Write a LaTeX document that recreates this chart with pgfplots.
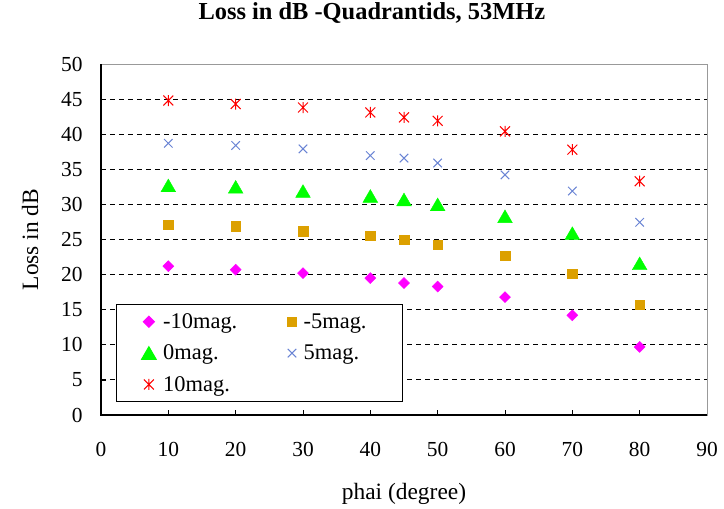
\documentclass[border=0pt]{standalone}
\usepackage{fontspec}
\setmainfont{Liberation Serif}
\usepackage{pgfplots}
\pgfplotsset{compat=1.18}
\definecolor{cmag}{RGB}{255,0,255}
\definecolor{cora}{RGB}{220,160,0}
\definecolor{cgre}{RGB}{0,255,0}
\definecolor{cblu}{RGB}{106,132,212}
\definecolor{cred}{RGB}{255,0,0}
\pgfdeclareplotmark{xstar}{%
  \pgfpathmoveto{\pgfqpoint{-0.9\pgfplotmarksize}{-0.9\pgfplotmarksize}}%
  \pgfpathlineto{\pgfqpoint{0.9\pgfplotmarksize}{0.9\pgfplotmarksize}}%
  \pgfpathmoveto{\pgfqpoint{-0.9\pgfplotmarksize}{0.9\pgfplotmarksize}}%
  \pgfpathlineto{\pgfqpoint{0.9\pgfplotmarksize}{-0.9\pgfplotmarksize}}%
  \pgfpathmoveto{\pgfqpoint{0pt}{-\pgfplotmarksize}}%
  \pgfpathlineto{\pgfqpoint{0pt}{\pgfplotmarksize}}%
  \pgfusepathqstroke}
\begin{document}
\begin{tikzpicture}
\useasboundingbox (-101bp,-94bp) rectangle (623bp,415bp);
\begin{axis}[
  at={(0,0)}, anchor=south west,
  scale only axis, width=606bp, height=351bp,
  xmin=0, xmax=90, ymin=0, ymax=50,
  xtick={0,10,...,90}, ytick={0,5,...,50},
  xtick pos=bottom, ytick pos=left,
  tick align=inside, major tick length=5bp,
  tick style={black, line width=0.8bp},
  axis line style={draw=gray!80, line width=1bp},
  extra y ticks={5,10,...,45}, extra y tick labels={},
  extra y tick style={grid=major, major tick length=0pt},
  grid style={black, line width=1bp, dash pattern=on 5bp off 4bp},
  /pgf/number format/assume math mode=true,
  tick label style={font=\fontsize{21.5}{24}\selectfont},
  yticklabel style={xshift=-15bp},
  xticklabel style={yshift=-24bp},
  title={\textbf{Loss in dB -Quadrantids, 53MHz}},
  title style={at={(0.447,1)}, anchor=center, yshift=45bp, font=\fontsize{24.5}{28}\selectfont},
  xlabel={phai (degree)},
  xlabel style={at={(0.5,0)}, anchor=center, yshift=-79bp, font=\fontsize{23.5}{27}\selectfont},
  ylabel={Loss in dB},
  every axis y label/.style={at={(rel axis cs:0,0.5)}, xshift=-71bp, rotate=90, anchor=center, font=\fontsize{23.5}{27}\selectfont},
  legend columns=2,
  legend cell align=left,
  legend style={at={(0.0248,0.3162)}, anchor=north west, draw=black, line width=1bp,
    fill=white, font=\fontsize{22.5}{26}\selectfont, inner xsep=25bp, inner ysep=7bp,
    row sep=11bp,
    /tikz/every odd column/.append style={column sep=5bp},
    /tikz/every even column/.append style={column sep=48bp}},
  clip=false,
]
\addplot[only marks, mark=square*, mark size=3.9bp, mark options={rotate=45, fill=cmag, draw=cmag}] coordinates {
 (10,21.2)(20,20.7)(30,20.2)(40,19.5)(45,18.8)(50,18.3)(60,16.8)(70,14.2)(80,9.7)};
\addlegendentry{-10mag.}
\addplot[only marks, mark=square*, mark size=4.7bp, mark options={fill=cora, draw=cora}] coordinates {
 (10,27.1)(20,26.9)(30,26.2)(40,25.5)(45,25.0)(50,24.3)(60,22.7)(70,20.1)(80,15.7)};
\addlegendentry{-5mag.\rule{9bp}{0pt}}
\addplot[only marks, mark=triangle*, mark size=8.5bp, mark options={fill=cgre, draw=cgre, yshift=-2.1bp}] coordinates {
 (10,32.7)(20,32.5)(30,31.9)(40,31.2)(45,30.7)(50,30.0)(60,28.3)(70,25.9)(80,21.6)};
\addlegendentry{0mag.}
\addplot[only marks, mark=x, mark size=6bp, mark options={draw=cblu, line width=1bp}] coordinates {
 (10,38.7)(20,38.4)(30,37.9)(40,36.95)(45,36.6)(50,35.9)(60,34.2)(70,31.9)(80,27.45)};
\addlegendentry{5mag.}
\addplot[only marks, mark=xstar, mark size=5.5bp, mark options={draw=cred, line width=1bp}] coordinates {
 (10,44.8)(20,44.3)(30,43.8)(40,43.1)(45,42.4)(50,41.9)(60,40.4)(70,37.8)(80,33.3)};
\addlegendentry{10mag.}
\draw[black, line width=1.2bp] (rel axis cs:0,1) -- (rel axis cs:0,0) -- (rel axis cs:1,0);
\end{axis}
\end{tikzpicture}
\end{document}
